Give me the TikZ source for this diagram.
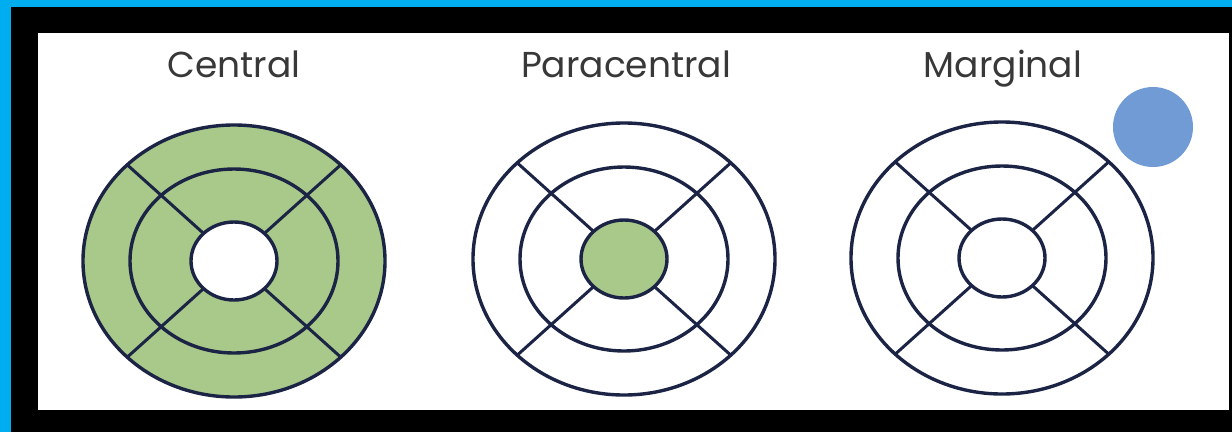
\documentclass[tikz,border=0pt]{standalone}
\usepackage{fontspec}
\setmainfont{Poppins}
\usetikzlibrary{calc}
\definecolor{frameblue}{RGB}{0,174,239}
\definecolor{ringnavy}{RGB}{28,36,70}
\definecolor{zonegreen}{RGB}{168,201,138}
\definecolor{spotblue}{RGB}{112,155,212}

\begin{document}
\begin{tikzpicture}[
  x=1pt,y=-1pt,
  font=\fontsize{36}{42}\selectfont,
  ring/.style={draw=ringnavy,line width=3.4pt},
  spoke/.style={draw=ringnavy,line width=3pt},
  title/.style={anchor=base,text=black!78}
]
\useasboundingbox (0,0) rectangle (1232,432);
\fill[frameblue] (0,0) rectangle (1232,432);
\fill[black] (11,7) rectangle (1232,432);
\fill[white] (38,33) rectangle (1229,410);

% titles
\node[title] (cen) at (234,77) {Central};
\node[title] (para) at (626,77) {Paracentral};
\node[title] (marg) at (1003,77) {Marginal};

% field centres
\coordinate (f1) at (234,261);
\coordinate (f2) at (624,259);
\coordinate (f3) at (1002,258);

% scotoma zones
\fill[zonegreen,even odd rule] (f1) ellipse [x radius=151,y radius=136]
  (f1) ellipse [x radius=43,y radius=39];
\fill[zonegreen] (f2) ellipse [x radius=43,y radius=39];
\fill[spotblue] (1153,127) circle [radius=40];

% rings and spokes
\foreach \f in {f1,f2,f3} {
  \draw[ring] (\f) ellipse [x radius=151,y radius=136];
  \draw[ring] (\f) ellipse [x radius=104,y radius=92];
  \draw[ring] (\f) ellipse [x radius=43,y radius=39];
  \foreach \a in {45,135,225,315}
    \draw[spoke] ($(\f)+(\a:43 and 39)$) -- ($(\f)+(\a:151 and 136)$);
}
\end{tikzpicture}
\end{document}
